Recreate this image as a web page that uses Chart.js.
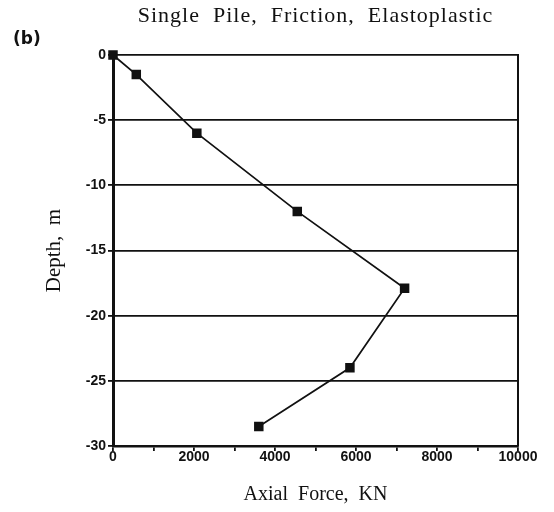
<!DOCTYPE html>
<html>
<head>
<meta charset="utf-8">
<script src="https://cdn.jsdelivr.net/npm/chart.js@4/dist/chart.umd.min.js"></script>
<style>
  html, body { margin: 0; padding: 0; background: #fff; }
  #wrap { width: 554px; height: 512px; position: relative; }
</style>
</head>
<body>
<div id="wrap"><canvas id="c" width="554" height="512"></canvas></div>
<script>
// Data
const axialForce = [0, 575, 2070, 4550, 7200, 5850, 3600];   // KN
const depth      = [0, -1.5, -6, -12, -17.9, -24, -28.5];    // m
const xTickLabels = [0, 2000, 4000, 6000, 8000, 10000];
const yTickLabels = [0, -5, -10, -15, -20, -25, -30];
const chartTitle = 'Single  Pile,  Friction,  Elastoplastic';
const panelLabel = '(b)';
const xTitle = 'Axial  Force,  KN';
const yTitle = 'Depth,  m';

const points = axialForce.map((f, i) => ({ x: f, y: depth[i] }));

const decor = {
  id: 'decor',
  afterDraw(chart) {
    const { ctx, chartArea: a } = chart;
    ctx.save();
    // frame (right side)
    ctx.strokeStyle = '#111';
    ctx.lineWidth = 2;
    ctx.beginPath();
    ctx.moveTo(a.right, a.top - 1);
    ctx.lineTo(a.right, a.bottom);
    ctx.stroke();
    // main title, centred over the plot area
    ctx.fillStyle = '#111';
    ctx.font = '22px "Liberation Serif", "Times New Roman", serif';
    if ('letterSpacing' in ctx) ctx.letterSpacing = '1px';
    ctx.textAlign = 'center';
    ctx.textBaseline = 'alphabetic';
    ctx.fillText(chartTitle, (a.left + a.right) / 2, 22);
    if ('letterSpacing' in ctx) ctx.letterSpacing = '0px';
    // panel label
    ctx.font = 'bold 17px "DejaVu Sans", Verdana, sans-serif';
    ctx.textAlign = 'left';
    ctx.fillText(panelLabel, 13, 44);
    ctx.restore();
  }
};

new Chart(document.getElementById('c'), {
  type: 'scatter',
  data: {
    datasets: [{
      data: points,
      showLine: true,
      clip: false,
      borderColor: '#111',
      backgroundColor: '#111',
      borderWidth: 1.7,
      pointStyle: 'rect',
      pointRadius: 5.5,
      pointHoverRadius: 5.5,
      tension: 0
    }]
  },
  options: {
    responsive: false,
    animation: false,
    events: [],
    layout: { padding: { left: 0, right: 36, top: 55, bottom: 0 } },
    plugins: { legend: { display: false }, tooltip: { enabled: false }, title: { display: false } },
    scales: {
      x: {
        type: 'linear',
        min: 0, max: 10000,
        afterBuildTicks(scale) {
          const t = [];
          for (let v = 0; v <= 10000; v += 1000) t.push({ value: v });
          scale.ticks = t;
        },
        afterFit(scale) { scale.height = 66; },
        ticks: {
          autoSkip: false,
          maxRotation: 0,
          padding: -2,
          color: '#111',
          font: { family: '"Liberation Sans", Arial, sans-serif', size: 14, weight: 'bold' },
          callback: (v) => xTickLabels.includes(v) ? String(v) : ''
        },
        grid: { drawOnChartArea: false, drawTicks: true, tickLength: 5, color: '#111', lineWidth: 1.8 },
        border: { display: true, color: '#111', width: 2.5 },
        title: {
          display: true, text: xTitle, color: '#111',
          font: { family: '"Liberation Serif", "Times New Roman", serif', size: 20 },
          padding: { top: 0, bottom: 5 }
        }
      },
      y: {
        type: 'linear',
        min: -30, max: 0,
        afterBuildTicks(scale) {
          scale.ticks = yTickLabels.map(v => ({ value: v }));
        },
        afterFit(scale) { scale.width = 113; },
        ticks: {
          autoSkip: false,
          padding: 2,
          color: '#111',
          font: { family: '"Liberation Sans", Arial, sans-serif', size: 14, weight: 'bold' },
          callback: (v) => String(v)
        },
        grid: { drawOnChartArea: true, drawTicks: true, tickLength: 5, color: '#111', lineWidth: 1.8 },
        border: { display: true, color: '#111', width: 3 },
        title: {
          display: true, text: yTitle, color: '#111',
          font: { family: '"Liberation Serif", "Times New Roman", serif', size: 21 },
          padding: { top: 42, bottom: 0 }
        }
      }
    }
  },
  plugins: [decor]
});
</script>
</body>
</html>
